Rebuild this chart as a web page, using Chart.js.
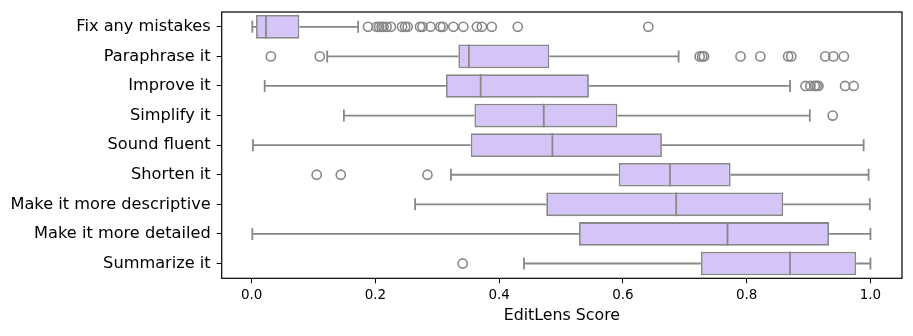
<!DOCTYPE html>
<html>
<head>
<meta charset="utf-8">
<script src="https://cdn.jsdelivr.net/npm/chart.js@4/dist/chart.umd.min.js"></script>
<style>
  html, body { margin: 0; padding: 0; background: #fff; }
  #wrap { width: 913px; height: 336px; }
</style>
</head>
<body>
<div id="wrap"><canvas id="chart" width="913" height="336"></canvas></div>
<script>
// ----------------------
// Data
// ----------------------
const prompts = ['Fix any mistakes', 'Paraphrase it', 'Improve it', 'Simplify it', 'Sound fluent',
                 'Shorten it', 'Make it more descriptive', 'Make it more detailed', 'Summarize it'];
const whiskerLow  = [0.001, 0.122, 0.021, 0.149, 0.002, 0.322, 0.264, 0.001, 0.440];
const q1          = [0.007, 0.334, 0.314, 0.360, 0.354, 0.593, 0.476, 0.529, 0.726];
const medians     = [0.023, 0.351, 0.370, 0.472, 0.486, 0.676, 0.686, 0.769, 0.870];
const q3          = [0.077, 0.481, 0.545, 0.591, 0.663, 0.774, 0.859, 0.933, 0.977];
const whiskerHigh = [0.172, 0.690, 0.870, 0.902, 0.989, 0.997, 0.999, 1.000, 1.000];
const outliers = [
    [0.188, 0.202, 0.206, 0.210, 0.213, 0.218, 0.225, 0.243, 0.248, 0.252, 0.272, 0.276,
     0.289, 0.305, 0.309, 0.326, 0.342, 0.364, 0.372, 0.388, 0.430, 0.641],
    [0.031, 0.110, 0.724, 0.728, 0.731, 0.790, 0.822, 0.867, 0.872, 0.927, 0.940, 0.957],
    [0.895, 0.903, 0.910, 0.913, 0.916, 0.959, 0.973],
    [0.939],
    [],
    [0.105, 0.144, 0.284],
    [],
    [],
    [0.341]
];
const xTickValues = [0.0, 0.2, 0.4, 0.6, 0.8, 1.0];

const boxFill = '#d4c4f7';
const edgeGray = '#888888';
const font = 'DejaVu Sans';

// outlier points for the scatter dataset
const outlierPoints = [];
outliers.forEach((vals, i) => vals.forEach(v => outlierPoints.push({ x: v, y: prompts[i] })));

// ----------------------
// Whiskers, caps, medians and the frame
// ----------------------
const boxParts = {
    id: 'boxParts',
    beforeDatasetsDraw(chart) {
        const { ctx, scales: { x, y } } = chart;
        ctx.save();
        ctx.strokeStyle = edgeGray;
        ctx.lineWidth = 1.8;
        prompts.forEach((p, i) => {
            const cy = y.getPixelForValue(i);
            const cap = 6;
            ctx.beginPath();
            ctx.moveTo(x.getPixelForValue(whiskerLow[i]), cy);
            ctx.lineTo(x.getPixelForValue(q1[i]), cy);
            ctx.moveTo(x.getPixelForValue(q3[i]), cy);
            ctx.lineTo(x.getPixelForValue(whiskerHigh[i]), cy);
            ctx.moveTo(x.getPixelForValue(whiskerLow[i]), cy - cap);
            ctx.lineTo(x.getPixelForValue(whiskerLow[i]), cy + cap);
            ctx.moveTo(x.getPixelForValue(whiskerHigh[i]), cy - cap);
            ctx.lineTo(x.getPixelForValue(whiskerHigh[i]), cy + cap);
            ctx.stroke();
        });
        ctx.restore();
    },
    afterDatasetsDraw(chart) {
        const { ctx, chartArea: a, scales: { x, y } } = chart;
        const half = (y.getPixelForValue(1) - y.getPixelForValue(0)) * 0.4;
        ctx.save();
        ctx.strokeStyle = edgeGray;
        ctx.lineWidth = 1.8;
        prompts.forEach((p, i) => {
            const cy = y.getPixelForValue(i);
            const mx = x.getPixelForValue(medians[i]);
            ctx.beginPath();
            ctx.moveTo(mx, cy - half);
            ctx.lineTo(mx, cy + half);
            ctx.stroke();
        });
        // frame round the plot
        ctx.strokeStyle = '#000';
        ctx.lineWidth = 1.2;
        ctx.strokeRect(a.left, a.top, a.right - a.left, a.bottom - a.top);
        ctx.restore();
    }
};

// ----------------------
// Chart
// ----------------------
new Chart(document.getElementById('chart'), {
    type: 'bar',
    data: {
        labels: prompts,
        datasets: [{
            label: 'IQR',
            data: prompts.map((p, i) => [q1[i], q3[i]]),
            backgroundColor: boxFill,
            borderColor: edgeGray,
            borderWidth: 1.8,
            borderSkipped: false,
            categoryPercentage: 0.8,
            barPercentage: 1.0,
            order: 2
        }, {
            type: 'scatter',
            label: 'Outliers',
            data: outlierPoints,
            pointStyle: 'circle',
            pointRadius: 4.6,
            pointBorderWidth: 1.6,
            pointBorderColor: edgeGray,
            pointBackgroundColor: 'rgba(255,255,255,0)',
            order: 1
        }]
    },
    options: {
        indexAxis: 'y',
        responsive: false,
        animation: false,
        layout: { padding: { top: 12, right: 11, left: 0, bottom: 0 } },
        plugins: { legend: { display: false }, tooltip: { enabled: false } },
        scales: {
            x: {
                type: 'linear',
                min: -0.0485,
                max: 1.051,
                afterBuildTicks: (s) => { s.ticks = xTickValues.map(v => ({ value: v })); },
                afterFit: (s) => { s.height = 57.7; },
                ticks: {
                    callback: (v) => Number(v).toFixed(1),
                    color: '#000',
                    font: { family: font, size: 13.5 },
                    padding: 4,
                    maxRotation: 0
                },
                grid: { drawOnChartArea: false, drawTicks: true, tickLength: 5, color: '#000', lineWidth: 1 },
                border: { display: false },
                title: {
                    display: true,
                    text: 'EditLens Score',
                    color: '#000',
                    font: { family: font, size: 15.8 },
                    padding: { top: 0, bottom: 11 }
                }
            },
            y: {
                type: 'category',
                afterFit: (s) => { s.width = 221.7; s.paddingTop = 0; s.paddingBottom = 0; },
                ticks: {
                    color: '#000',
                    font: { family: font, size: 16.2, lineHeight: 1.0 },
                    padding: 6
                },
                grid: { offset: false, drawOnChartArea: false, drawTicks: true, tickLength: 5, color: '#000', lineWidth: 1 },
                border: { display: false }
            }
        }
    },
    plugins: [boxParts]
});
</script>
</body>
</html>
